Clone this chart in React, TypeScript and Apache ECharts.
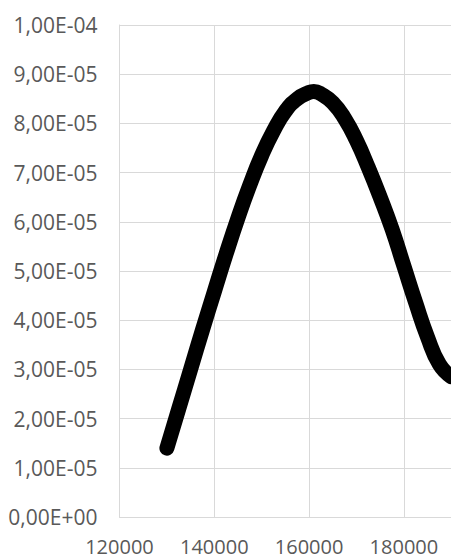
import React, { useEffect, useRef } from "react";
import * as echarts from "echarts";

// Curve (x, density)
const xValues = [
  130000, 132500, 135000, 137500, 140000, 142500, 145000, 147500, 150000,
  152500, 155000, 157500, 160000, 161000, 162500, 165000, 167500, 170000,
  172500, 175000, 177500, 180000, 182500, 185000, 187500, 190000,
];
const yValues = [
  1.4e-5, 2.2e-5, 3.0e-5, 3.8e-5, 4.58e-5, 5.35e-5, 6.08e-5, 6.75e-5, 7.35e-5,
  7.85e-5, 8.25e-5, 8.5e-5, 8.63e-5, 8.65e-5, 8.6e-5, 8.42e-5, 8.1e-5, 7.65e-5,
  7.1e-5, 6.5e-5, 5.85e-5, 5.1e-5, 4.35e-5, 3.65e-5, 3.1e-5, 2.85e-5,
];

const xTickLabels = ["120000", "140000", "160000", "180000"];
const yTickLabels = [
  "0,00E+00", "1,00E-05", "2,00E-05", "3,00E-05", "4,00E-05", "5,00E-05",
  "6,00E-05", "7,00E-05", "8,00E-05", "9,00E-05", "1,00E-04",
];

export default function App() {
  const ref = useRef<HTMLDivElement>(null);
  useEffect(() => {
    if (!ref.current) return;
    const chart = echarts.init(ref.current, null, { renderer: "svg" });
    const font = "'Open Sans', 'DejaVu Sans', sans-serif";
    chart.setOption({
      animation: false,
      backgroundColor: "#ffffff",
      grid: { left: 119.5, right: 61.3, top: 25, bottom: 42, containLabel: false },
      xAxis: {
        type: "value",
        min: 120000,
        max: 200000,
        interval: 20000,
        axisLine: { show: true, lineStyle: { color: "#d9d9d9", width: 1 } },
        axisTick: { show: false },
        splitLine: { show: true, lineStyle: { color: "#d9d9d9", width: 1 } },
        axisLabel: {
          color: "#595959",
          fontFamily: font,
          fontSize: 20,
          lineHeight: 20,
          margin: 19,
          showMaxLabel: false,
          formatter: (v: number) => xTickLabels[Math.round((v - 120000) / 20000)] ?? "",
        },
      },
      yAxis: {
        type: "value",
        min: 0,
        max: 1e-4,
        interval: 1e-5,
        axisLine: { show: true, lineStyle: { color: "#d9d9d9", width: 1 } },
        axisTick: { show: false },
        splitLine: { show: true, lineStyle: { color: "#d9d9d9", width: 1 } },
        axisLabel: {
          color: "#595959",
          fontFamily: font,
          fontSize: 21,
          margin: 22,
          formatter: (v: number) => yTickLabels[Math.round(v / 1e-5)] ?? "",
        },
      },
      series: [
        {
          type: "line",
          data: xValues.map((x, i) => [x, yValues[i]]),
          smooth: true,
          symbol: "none",
          lineStyle: { color: "#000000", width: 15, cap: "round", join: "round" },
        },
      ],
    });
    return () => chart.dispose();
  }, []);
  return (
    <div style={{ position: "fixed", left: 0, top: 0, width: 451, height: 559, overflow: "hidden", background: "#fff" }}>
      <div ref={ref} style={{ width: 560, height: 559 }} />
    </div>
  );
}
